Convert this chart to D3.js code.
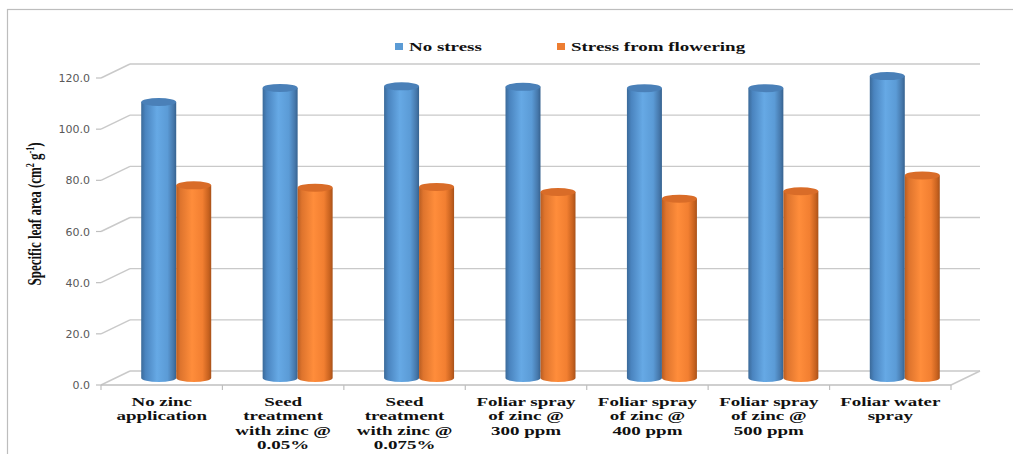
<!DOCTYPE html>
<html><head><meta charset="utf-8">
<script src="https://cdn.jsdelivr.net/npm/d3@7"></script>
<style>body{margin:0;background:#fff}svg{display:block}</style>
</head><body>
<svg id="c" width="1013" height="454"></svg>
<script>
const categories = [
  ["No zinc","application"],
  ["Seed","treatment","with zinc @","0.05%"],
  ["Seed","treatment","with zinc @","0.075%"],
  ["Foliar spray","of zinc @","300 ppm"],
  ["Foliar spray","of zinc @","400 ppm"],
  ["Foliar spray","of zinc @","500 ppm"],
  ["Foliar water","spray"]
];
const seriesNames = ["No stress","Stress from flowering"];
const noStress = [107.9, 113.4, 114.0, 113.8, 113.3, 113.3, 118.0];
const stressFlowering = [75.3, 74.4, 74.7, 72.7, 70.1, 73.0, 79.2];
const yTicks = [0, 20, 40, 60, 80, 100, 120];

const svg = d3.select("#c");
const W = 1013, H = 454;
const SX = 1.46; // horizontal stretch of text
const depthX = 29, depthY = -14;
const catIdx = d3.range(categories.length);
const x = d3.scaleBand().domain(catIdx).range([101, 951]).padding(0);
const y = d3.scaleLinear().domain([0, 120]).range([385, 78]);
const inner = d3.scaleBand().domain(seriesNames).range([-35, 35]);
const gridColor = "#c9c9c9";

// outer border
svg.append("rect").attr("x", 7.5).attr("y", 9.5).attr("width", W).attr("height", H)
  .attr("fill", "none").attr("stroke", "#bdbdbd").attr("stroke-width", 1.2);

// defs gradients
const defs = svg.append("defs");
function grad(id, stops) {
  const g = defs.append("linearGradient").attr("id", id).attr("x1", "0%").attr("x2", "100%").attr("y1", "0%").attr("y2", "0%");
  stops.forEach(s => g.append("stop").attr("offset", s[0]).attr("stop-color", s[1]));
}
grad("gBlue", [["0%", "#3b6a99"], ["12%", "#4a84bf"], ["45%", "#66a9e5"], ["75%", "#5b9bd6"], ["92%", "#4678ab"], ["100%", "#36628f"]]);
grad("gOrange", [["0%", "#b95d22"], ["12%", "#de742d"], ["45%", "#ff8d3b"], ["75%", "#f27f31"], ["92%", "#c8621f"], ["100%", "#a8521a"]]);
const topFill = {"No stress": "#4a80b8", "Stress from flowering": "#d96c28"};
const bodyFill = {"No stress": "url(#gBlue)", "Stress from flowering": "url(#gOrange)"};
const legendColor = {"No stress": "#5b9bd5", "Stress from flowering": "#ed7d31"};

// walls / gridlines
const grid = svg.append("g").attr("stroke", gridColor).attr("stroke-width", 1.4).attr("fill", "none");
yTicks.forEach(t => {
  const yf = y(t), yb = y(t) + depthY;
  grid.append("line").attr("x1", 101).attr("y1", yf).attr("x2", 101 + depthX).attr("y2", yb);
  grid.append("line").attr("x1", 101 + depthX).attr("y1", yb).attr("x2", 951 + depthX).attr("y2", yb);
});
// floor front/right edges
grid.append("line").attr("x1", 951).attr("y1", y(0)).attr("x2", 951 + depthX).attr("y2", y(0) + depthY);
svg.append("line").attr("x1", 101).attr("y1", y(0)).attr("x2", 951).attr("y2", y(0))
  .attr("stroke", "#bfbfbf").attr("stroke-width", 1.4);
// x ticks
svg.append("g").selectAll("line").data(d3.range(categories.length + 1)).join("line")
  .attr("x1", i => i < categories.length ? x(i) : 951).attr("x2", i => i < categories.length ? x(i) : 951)
  .attr("y1", y(0)).attr("y2", y(0) + 5).attr("stroke", "#bfbfbf").attr("stroke-width", 1.2);
// y ticks
svg.append("g").selectAll("line").data(yTicks).join("line")
  .attr("x1", 96).attr("x2", 101).attr("y1", d => y(d)).attr("y2", d => y(d))
  .attr("stroke", "#bfbfbf").attr("stroke-width", 1.2);
svg.append("g").selectAll("text").data(yTicks).join("text")
  .attr("x", 90).attr("y", d => y(d) + 4).attr("text-anchor", "end")
  .attr("font-family", "DejaVu Sans, Verdana, sans-serif").attr("font-size", 11).attr("fill", "#595959")
  .text(d => d3.format(".1f")(d));

// bars (cylinders)
const rx = 17.5, ry = 4;
const midX = depthX / 2, midY = depthY / 2;
const rows = [];
catIdx.forEach(i => {
  seriesNames.forEach((s, k) => {
    rows.push({i, s, v: k === 0 ? noStress[i] : stressFlowering[i]});
  });
});
const bars = svg.append("g").selectAll("g").data(rows).join("g");
bars.each(function(d) {
  const g = d3.select(this);
  const cx = x(d.i) + x.bandwidth() / 2 + midX + inner(d.s) + inner.bandwidth() / 2;
  const yb = y(0) + midY, yt = y(d.v) + midY;
  g.append("path")
    .attr("d", `M${cx - rx},${yt} L${cx - rx},${yb} A${rx},${ry} 0 0 0 ${cx + rx},${yb} L${cx + rx},${yt} Z`)
    .attr("fill", bodyFill[d.s]);
  g.append("ellipse").attr("cx", cx).attr("cy", yt).attr("rx", rx).attr("ry", ry)
    .attr("fill", topFill[d.s]);
});

// category labels
const lab = svg.append("g").attr("font-family", "Liberation Serif, Times New Roman, serif")
  .attr("font-weight", "bold").attr("font-size", 13).attr("fill", "#111");
catIdx.forEach(i => {
  const cx = x(i) + x.bandwidth() / 2;
  categories[i].forEach((line, j) => {
    lab.append("text").attr("text-anchor", "middle")
      .attr("transform", `translate(${cx},${405.5 + j * 14.5}) scale(${SX},1)`)
      .text(line);
  });
});

// y axis title
const yt = svg.append("text").attr("text-anchor", "middle")
  .attr("transform", `translate(41,214) scale(${SX},1) rotate(-90)`)
  .attr("font-family", "Liberation Serif, Times New Roman, serif").attr("font-weight", "bold")
  .attr("font-size", 13).attr("fill", "#111");
yt.append("tspan").text("Specific leaf area (cm");
yt.append("tspan").attr("font-size", 8).attr("dy", -5).text("2");
yt.append("tspan").attr("dy", 5).text(" g");
yt.append("tspan").attr("font-size", 8).attr("dy", -5).text("-1");
yt.append("tspan").attr("dy", 5).text(")");

// legend
const legendX = [395, 557];
seriesNames.forEach((s, k) => {
  svg.append("rect").attr("x", legendX[k]).attr("y", 43).attr("width", 8).attr("height", 7).attr("fill", legendColor[s]);
  svg.append("text").attr("transform", `translate(${legendX[k] + 14},50.5) scale(${SX},1)`)
    .attr("font-family", "Liberation Serif, Times New Roman, serif").attr("font-weight", "bold")
    .attr("font-size", 13).attr("fill", "#111").text(s);
});
</script>
</body></html>
